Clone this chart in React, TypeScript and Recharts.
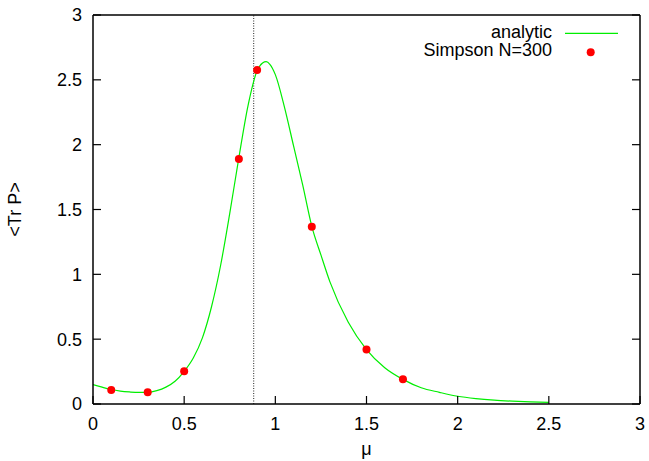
import { ComposedChart, Line, Scatter, XAxis, YAxis, ReferenceLine, Legend } from "recharts";

// analytic curve
const muCurve = [0, 0.05, 0.1, 0.15, 0.2, 0.25, 0.3, 0.35, 0.4, 0.45, 0.5, 0.55, 0.6, 0.65, 0.7, 0.75, 0.8, 0.85, 0.9, 0.93, 0.95, 0.97, 1.0, 1.05, 1.1, 1.15, 1.2, 1.25, 1.3, 1.4, 1.5, 1.6, 1.7, 1.8, 1.9, 2.0, 2.1, 2.2, 2.3, 2.4, 2.5];
const trCurve = [0.15, 0.13, 0.112, 0.1, 0.093, 0.089, 0.09, 0.103, 0.13, 0.175, 0.252, 0.355, 0.51, 0.75, 1.07, 1.47, 1.9, 2.3, 2.57, 2.63, 2.64, 2.62, 2.54, 2.29, 1.99, 1.69, 1.37, 1.15, 0.94, 0.63, 0.42, 0.28, 0.19, 0.125, 0.09, 0.06, 0.042, 0.03, 0.022, 0.016, 0.012];

// Simpson N=300 points
const muSimpson = [0.1, 0.3, 0.5, 0.8, 0.9, 1.2, 1.5, 1.7];
const trSimpson = [0.108, 0.09, 0.252, 1.89, 2.575, 1.367, 0.42, 0.19];

const xTicks = [0, 0.5, 1, 1.5, 2, 2.5, 3];
const yTicks = [0, 0.5, 1, 1.5, 2, 2.5, 3];
const criticalMu = 0.8814;

const curveData = muCurve.map((m, i) => ({ mu: m, tr: trCurve[i] }));
const simpsonData = muSimpson.map((m, i) => ({ mu: m, tr: trSimpson[i] }));

const FONT = "'Liberation Sans', Arial, Helvetica, sans-serif";
const TICK = 8;

// gnuplot style: tick marks point into the plot
function BottomTick(p: any) {
  return (
    <g>
      <line x1={p.x} x2={p.x} y1={p.y} y2={p.y - TICK} stroke="#000" strokeWidth={1.2} />
      <text x={p.x} y={p.y + 25.5} textAnchor="middle" fontSize={18} fontFamily={FONT} fill="#000">
        {p.payload.value}
      </text>
    </g>
  );
}

function LeftTick(p: any) {
  return (
    <g>
      <line x1={p.x} x2={p.x + TICK} y1={p.y} y2={p.y} stroke="#000" strokeWidth={1.2} />
      <text x={p.x - 11} y={p.y + 6.4} textAnchor="end" fontSize={18} fontFamily={FONT} fill="#000">
        {p.payload.value}
      </text>
    </g>
  );
}

function TopTick(p: any) {
  return <line x1={p.x} x2={p.x} y1={p.y} y2={p.y + TICK} stroke="#000" strokeWidth={1.2} />;
}

function RightTick(p: any) {
  return <line x1={p.x} x2={p.x - TICK} y1={p.y} y2={p.y} stroke="#000" strokeWidth={1.2} />;
}

function KeyBox() {
  return (
    <svg width={240} height={50} style={{ display: "block" }}>
      <text x={152} y={19.7} textAnchor="end" fontSize={18} fontFamily={FONT} fill="#000">analytic</text>
      <line x1={165} x2={218} y1={15.3} y2={15.3} stroke="#00ee00" strokeWidth={1.2} />
      <text x={152} y={37.7} textAnchor="end" fontSize={18} fontFamily={FONT} fill="#000">Simpson N=300</text>
      <circle cx={190.7} cy={34.3} r={4} fill="#ff0000" />
    </svg>
  );
}

export default function App() {
  return (
    <div style={{ position: "absolute", left: 0, top: 0, width: 649, height: 461, background: "#fff" }}>
      <ComposedChart width={649} height={461} margin={{ top: 15, right: 9, bottom: 0, left: 0 }}>
        <XAxis
          dataKey="mu"
          type="number"
          domain={[0, 3]}
          ticks={xTicks}
          allowDataOverflow
          height={57}
          tickSize={0}
          tickMargin={0}
          tickLine={false}
          stroke="#000"
          strokeWidth={1.5}
          tick={<BottomTick />}
          label={{ value: "μ", position: "insideBottom", offset: 6, style: { fontSize: 18, fill: "#000", fontFamily: FONT } }}
        />
        <XAxis
          xAxisId="top"
          orientation="top"
          mirror
          type="number"
          domain={[0, 3]}
          ticks={xTicks}
          allowDataOverflow
          tickSize={0}
          tickMargin={0}
          tickLine={false}
          tick={<TopTick />}
          stroke="#000"
          strokeWidth={1.5}
        />
        <YAxis
          type="number"
          domain={[0, 3]}
          ticks={yTicks}
          allowDataOverflow
          width={93}
          tickSize={0}
          tickMargin={0}
          tickLine={false}
          stroke="#000"
          strokeWidth={1.5}
          tick={<LeftTick />}
          label={{ value: "<Tr P>", angle: -90, position: "insideLeft", offset: 15, style: { textAnchor: "middle", fontSize: 18, fill: "#000", fontFamily: FONT } }}
        />
        <YAxis
          yAxisId="right"
          orientation="right"
          mirror
          type="number"
          domain={[0, 3]}
          ticks={yTicks}
          allowDataOverflow
          tickSize={0}
          tickMargin={0}
          tickLine={false}
          tick={<RightTick />}
          stroke="#000"
          strokeWidth={1.5}
        />
        <ReferenceLine x={criticalMu} stroke="#222" strokeDasharray="1 1.5" strokeWidth={1} />
        <Line
          data={curveData}
          dataKey="tr"
          type="monotone"
          stroke="#00ee00"
          strokeWidth={1.2}
          dot={false}
          activeDot={false}
          isAnimationActive={false}
        />
        <Scatter
          data={simpsonData}
          dataKey="tr"
          fill="#ff0000"
          isAnimationActive={false}
          shape={(p: any) => <circle cx={p.cx} cy={p.cy} r={4} fill="#ff0000" />}
        />
        <Legend
          layout="vertical"
          align="center"
          verticalAlign="middle"
          wrapperStyle={{ left: 400, top: 18, width: 240, height: 50 }}
          content={() => <KeyBox />}
        />
      </ComposedChart>
    </div>
  );
}
